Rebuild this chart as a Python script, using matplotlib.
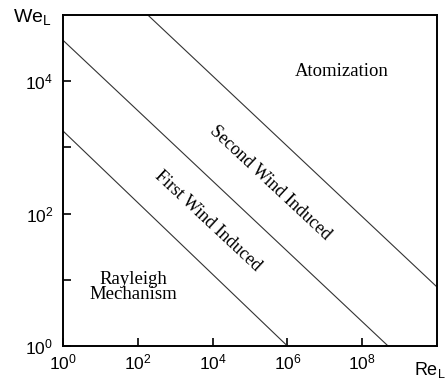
import numpy as np
import matplotlib
matplotlib.use('Agg')
import matplotlib.pyplot as plt
from matplotlib.ticker import FixedLocator, FuncFormatter

# Grenzlinien (Re_L, We_L) Endpunkte
line_rayleigh_first = ([1.0, 1e6], [10**3.25, 1.0])
line_first_second = ([1.0, 10**8.69], [10**4.62, 1.0])
line_second_atom = ([10**2.27, 1e10], [1e5, 10**0.89])

x_ticks = [1e0, 1e2, 1e4, 1e6, 1e8]
y_ticks = [1e0, 1e1, 1e2, 1e3, 1e4]
y_labeled = [1e0, 1e2, 1e4]

plt.rcParams['mathtext.fontset'] = 'custom'
plt.rcParams['mathtext.rm'] = 'Liberation Sans'
plt.rcParams['mathtext.it'] = 'Liberation Sans'
plt.rcParams['font.family'] = 'Liberation Sans'

fig = plt.figure(figsize=(4.46, 3.80), dpi=100)
ax = fig.add_axes([0.141, 0.0895, 0.839, 0.871])

for xs, ys in (line_rayleigh_first, line_first_second, line_second_atom):
    ax.plot(xs, ys, color='#333333', lw=0.8)

ax.set_xscale('log')
ax.set_yscale('log')
ax.set_xlim(1e0, 1e10)
ax.set_ylim(1e0, 1e5)

ax.xaxis.set_major_locator(FixedLocator(x_ticks))
ax.yaxis.set_major_locator(FixedLocator(y_ticks))
ax.xaxis.set_minor_locator(FixedLocator([]))
ax.yaxis.set_minor_locator(FixedLocator([]))
ax.xaxis.set_major_formatter(FuncFormatter(lambda v, p: r'$\mathregular{10^{%d}}$' % round(np.log10(v))))
ax.yaxis.set_major_formatter(FuncFormatter(
    lambda v, p: r'$\mathregular{10^{%d}}$' % round(np.log10(v)) if v in y_labeled else ''))
ax.tick_params(direction='in', length=6, width=1.2, labelsize=12.5, pad=5)
ax.tick_params(axis='y', pad=7)
for s in ax.spines.values():
    s.set_linewidth(1.4)

# Achsenbeschriftungen
fig.text(0.03, 0.955, r'We$_\mathregular{L}$', fontsize=14, ha='left', va='center')
fig.text(0.928, 0.027, r'Re$_\mathregular{L}$', fontsize=13, ha='left', va='center')

serif = 'Liberation Serif'
ax.text(10**7.44, 10**4.15, 'Atomization', family=serif, fontsize=13.5, ha='center', va='center')
ax.text(10**5.53, 10**2.47, 'Second Wind Induced', family=serif, fontsize=13,
        ha='center', va='center', rotation=-43)
ax.text(10**3.87, 10**1.89, 'First Wind Induced', family=serif, fontsize=13,
        ha='center', va='center', rotation=-43)
ax.text(10**1.87, 10**0.89, 'Rayleigh\nMechanism', family=serif, fontsize=13.5,
        ha='center', va='center', linespacing=0.9)

fig.savefig('out.png', dpi=100)
